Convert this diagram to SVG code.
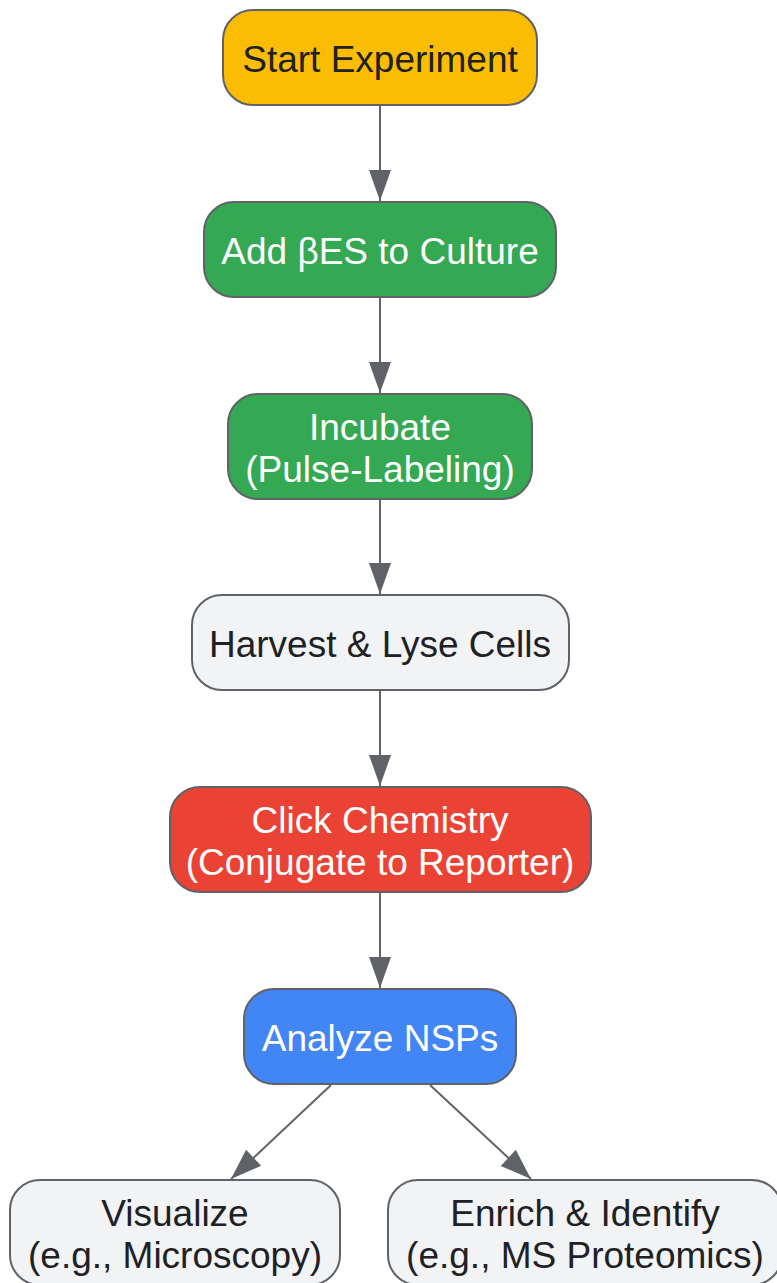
<svg xmlns="http://www.w3.org/2000/svg" width="777" height="1283" viewBox="0 0 777 1283">
<style>
.n{stroke:#5f6368;stroke-width:2}
.t{font-family:"Liberation Sans",Arial,sans-serif;font-size:37px;text-anchor:middle}
.d{fill:#202124}
.w{fill:#ffffff}
.e{stroke:#5f6368;stroke-width:2;fill:none;marker-end:url(#ah)}
</style>
<defs>
<marker id="ah" markerWidth="31" markerHeight="22" refX="31" refY="11" viewBox="0 0 31 22" markerUnits="userSpaceOnUse" orient="auto" overflow="visible">
<path d="M0,0 L31,11 L0,22 Z" fill="#5f6368"/>
</marker>
</defs>
<rect width="777" height="1283" fill="#ffffff"/>
<g id="connectors">
<line class="e" x1="380" y1="105" x2="380" y2="201"/>
<line class="e" x1="380" y1="297" x2="380" y2="393"/>
<line class="e" x1="380" y1="499" x2="380" y2="594"/>
<line class="e" x1="380" y1="690" x2="380" y2="786"/>
<line class="e" x1="380" y1="892" x2="380" y2="988"/>
<line class="e" x1="331" y1="1085" x2="231" y2="1179"/>
<line class="e" x1="430" y1="1085" x2="531" y2="1179"/>
</g>
<g id="start">
<rect class="n" x="223" y="10" width="314" height="95" rx="30" fill="#FBBC04"/>
<text class="t d" x="380" y="72">Start Experiment</text>
</g>
<g id="add">
<rect class="n" x="204" y="202" width="352" height="95" rx="30" fill="#34A853"/>
<text class="t w" x="380" y="264">Add βES to Culture</text>
</g>
<g id="incubate">
<rect class="n" x="228" y="394" width="304" height="105" rx="30" fill="#34A853"/>
<text class="t w" x="380" y="440">Incubate</text>
<text class="t w" x="380" y="482">(Pulse-Labeling)</text>
</g>
<g id="harvest">
<rect class="n" x="192" y="595" width="377" height="95" rx="30" fill="#F1F3F4"/>
<text class="t d" x="380" y="657">Harvest &amp; Lyse Cells</text>
</g>
<g id="click">
<rect class="n" x="170" y="787" width="421" height="105" rx="30" fill="#EA4335"/>
<text class="t w" x="380" y="833">Click Chemistry</text>
<text class="t w" x="380" y="875">(Conjugate to Reporter)</text>
</g>
<g id="analyze">
<rect class="n" x="244" y="989" width="272" height="95" rx="30" fill="#4285F4"/>
<text class="t w" x="380" y="1051">Analyze NSPs</text>
</g>
<g id="visualize">
<rect class="n" x="10" y="1180" width="330" height="105" rx="30" fill="#F1F3F4"/>
<text class="t d" x="175" y="1226">Visualize</text>
<text class="t d" x="175" y="1268">(e.g., Microscopy)</text>
</g>
<g id="enrich">
<rect class="n" x="388" y="1180" width="394" height="105" rx="30" fill="#F1F3F4"/>
<text class="t d" x="585" y="1226">Enrich &amp; Identify</text>
<text class="t d" x="585" y="1268">(e.g., MS Proteomics)</text>
</g>
</svg>
